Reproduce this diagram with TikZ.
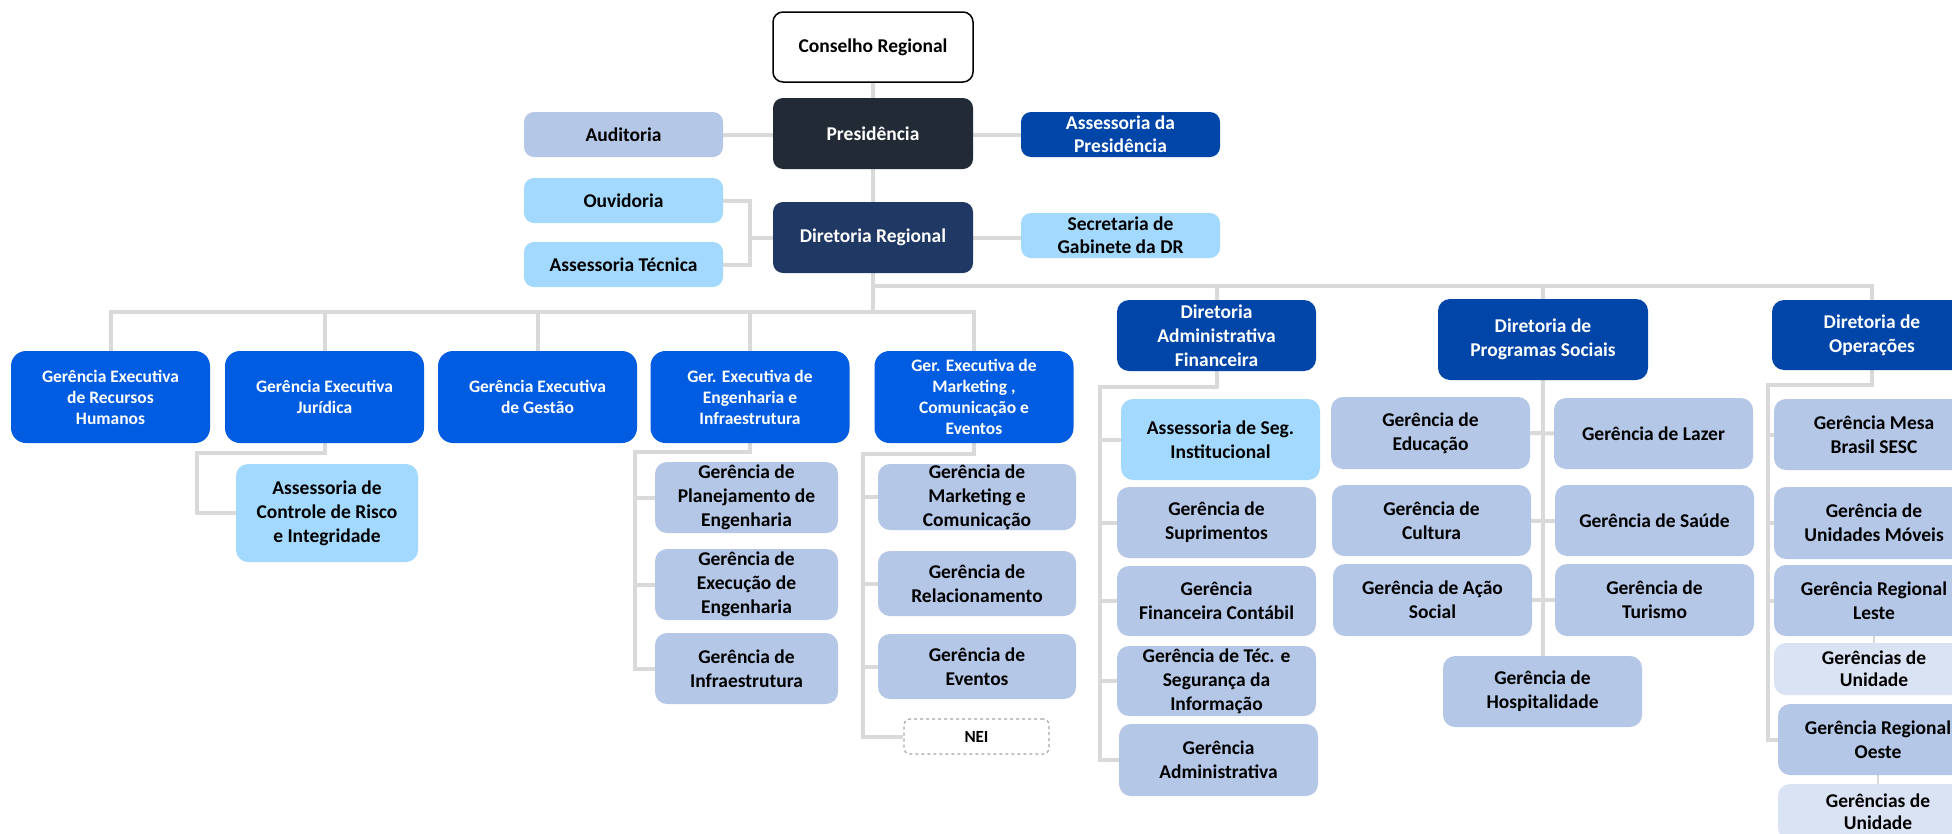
\documentclass[tikz,border=0pt]{standalone}
\usepackage{fontspec}
\setmainfont{Carlito}
\usetikzlibrary{backgrounds}
\definecolor{dk}{HTML}{222A35}
\definecolor{navy}{HTML}{203864}
\definecolor{roy}{HTML}{0045A8}
\definecolor{brt}{HTML}{005CE1}
\definecolor{lsb}{HTML}{B4C7E7}
\definecolor{lbl}{HTML}{A3D9FE}
\definecolor{pale}{HTML}{DAE3F3}
\definecolor{ln}{HTML}{D9D9D9}
\definecolor{dsh}{HTML}{A6A6A6}
\tikzset{
  sz/.style 2 args={minimum width=#1pt, minimum height=#2pt},
  bx/.style={rounded corners=12pt, inner sep=0pt, align=center, text=black,
    font=\bfseries\fontsize{19.5}{24}\selectfont},
  topbx/.style={bx, rounded corners=10pt, font=\bfseries\fontsize{19.5}{23}\selectfont},
  gex/.style={bx, rounded corners=15pt, fill=brt, text=white, sz={199}{92},
    font=\bfseries\fontsize{17.5}{21}\selectfont},
  dirbx/.style={bx, fill=roy, text=white},
  lo/.style={bx, fill=lsb},
  lob/.style={bx, fill=lbl},
  unid/.style={bx, fill=pale, font=\bfseries\fontsize{19.5}{22}\selectfont},
  con/.style={draw=ln, line width=4pt},
  thincon/.style={draw=ln, line width=2pt},
}
\begin{document}
\begin{tikzpicture}[x=1pt,y=-1pt]
\useasboundingbox (0,0) rectangle (1952,833);
\clip (0,0) rectangle (1952,833);

% top
\node[topbx, draw=black, line width=1.5pt, fill=white, sz={200}{70}] (cons) at (873,47) {Conselho Regional};
\node[topbx, fill=dk, text=white, sz={200}{71}] (pres) at (873,133.5) {Presidência};
\node[topbx, fill=lsb, sz={199}{45}] (aud) at (623.5,134.5) {Auditoria};
\node[topbx, fill=roy, text=white, sz={199}{45}] (asspres) at (1120.5,134.5) {Assessoria da\\Presidência};
\node[topbx, fill=lbl, sz={199}{45}] (ouv) at (623.5,200.5) {Ouvidoria};
\node[topbx, fill=lbl, sz={199}{45}] (asstec) at (623.5,264.5) {Assessoria Técnica};
\node[topbx, fill=navy, text=white, sz={200}{71}] (dirreg) at (873,237.5) {Diretoria Regional};
\node[topbx, fill=lbl, sz={199}{45}] (sec) at (1120.5,235.5) {Secretaria de\\Gabinete da DR};

% executive managements
\node[gex] (rh) at (110.5,397) {Gerência Executiva\\de Recursos\\Humanos};
\node[gex] (jur) at (324.5,397) {Gerência Executiva\\Jurídica};
\node[gex] (gest) at (537.5,397) {Gerência Executiva\\de Gestão};
\node[gex] (eng) at (750,397) {Ger. Executiva de\\Engenharia e\\Infraestrutura};
\node[gex] (mkt) at (974,397) {Ger. Executiva de\\Marketing ,\\Comunicação e\\Eventos};

\node[lob, sz={182}{98}] (acri) at (327,513) {Assessoria de\\Controle de Risco\\e Integridade};

\node[lo, sz={183}{71}] (plan) at (746.5,497.5) {Gerência de\\Planejamento de\\Engenharia};
\node[lo, sz={183}{71}] (exec) at (746.5,584.5) {Gerência de\\Execução de\\Engenharia};
\node[lo, sz={183}{71}] (infra) at (746.5,668.5) {Gerência de\\Infraestrutura};

\node[lo, sz={198}{66}] (mkcom) at (977,497) {Gerência de\\Marketing e\\Comunicação};
\node[lo, sz={198}{65}] (rel) at (977,583.5) {Gerência de\\Relacionamento};
\node[lo, sz={198}{65}] (evt) at (977,666.5) {Gerência de\\Eventos};
\node[bx, rounded corners=6pt, draw=dsh, dashed, line width=1.2pt, fill=white, sz={145}{35},
  font=\bfseries\fontsize{17}{20}\selectfont] (nei) at (976.5,736.5) {NEI};

% directorates
\node[dirbx, sz={199}{71}] (dadm) at (1216.5,335.5) {Diretoria\\Administrativa\\Financeira};
\node[dirbx, sz={210}{81}] (dps) at (1543,339.5) {Diretoria de\\Programas Sociais};
\node[dirbx, sz={200}{70}] (dops) at (1872,335) {Diretoria de\\Operações};

\node[lob, sz={199}{81}] (aseg) at (1220.5,439.5) {Assessoria de Seg.\\Institucional};
\node[lo, sz={199}{71}] (sup) at (1216.5,522.5) {Gerência de\\Suprimentos};
\node[lo, sz={199}{70}] (fin) at (1216.5,601) {Gerência\\Financeira Contábil};
\node[lo, sz={199}{70}] (tec) at (1216.5,681) {Gerência de Téc. e\\Segurança da\\Informação};
\node[lo, sz={199}{72}] (gadm) at (1218.5,760) {Gerência\\Administrativa};

\node[lo, sz={199}{72}] (edu) at (1430.5,433) {Gerência de\\Educação};
\node[lo, sz={199}{71}] (cult) at (1431.5,520.5) {Gerência de\\Cultura};
\node[lo, sz={199}{72}] (acao) at (1432.5,600) {Gerência de Ação\\Social};
\node[lo, sz={199}{71}] (laz) at (1653.5,433.5) {Gerência de Lazer};
\node[lo, sz={199}{71}] (sau) at (1654.5,520.5) {Gerência de Saúde};
\node[lo, sz={199}{72}] (tur) at (1654.5,600) {Gerência de\\Turismo};
\node[lo, sz={199}{71}] (hosp) at (1542.5,691.5) {Gerência de\\Hospitalidade};

\node[lo, sz={200}{71}] (mesa) at (1874,434.5) {Gerência Mesa\\Brasil SESC};
\node[lo, sz={200}{72}] (mov) at (1874,523) {Gerência de\\Unidades Móveis};
\node[lo, sz={200}{71}] (leste) at (1874,600.5) {Gerência Regional\\Leste};
\node[unid, sz={200}{52}] (gu1) at (1874,669) {Gerências de\\Unidade};
\node[lo, sz={200}{71}] (oeste) at (1878,739.5) {Gerência Regional\\Oeste};
\node[unid, sz={200}{56}] (gu2) at (1878,812) {Gerências de\\Unidade};

\begin{pgfonlayer}{background}
\fill[white] (0,0) rectangle (1952,833);
% top connectors
\draw[con] (cons.south) -- (pres.north);
\draw[con] (pres.south) -- (dirreg.north);
\draw[con] (aud.east) -- (aud.east -| pres.west);
\draw[con] (pres.east |- asspres.west) -- (asspres.west);
\coordinate (j1) at (750,237.5);
\draw[con] (ouv.east) -| (j1) |- (asstec.east);
\draw[con] (j1) -- (dirreg.west);
\draw[con] (dirreg.east) -- (dirreg.east -| sec.west);
% buses
\coordinate (busL) at (873,312);
\coordinate (busR) at (873,286);
\draw[con] (dirreg.south) -- (busL);
\draw[con] (rh.north) |- (busL) -| (mkt.north);
\draw[con] (busL -| jur.north) -- (jur.north);
\draw[con] (busL -| gest.north) -- (gest.north);
\draw[con] (busL -| eng.north) -- (eng.north);
\draw[con] (busR) -| (dops.north);
\draw[con] (busR -| dadm.north) -- (dadm.north);
\draw[con] (busR -| dps.north) -- (dps.north);
% juridica
\draw[con] (jur.south) -- ++(0,10) -| ([xshift=-39pt]acri.west) -- (acri.west);
% engenharia
\draw[con] (eng.south) -- ++(0,9) -| ([xshift=-20pt]infra.west) -- (infra.west);
\draw[con] (plan.west) -- ++(-20,0);
\draw[con] (exec.west) -- ++(-20,0);
% marketing
\draw[con] (mkt.south) -- ++(0,11) -| ([xshift=-40pt]nei.west) -- (nei.west);
\draw[con] (mkcom.west) -- ++(-14,0);
\draw[con] (rel.west) -- ++(-14,0);
\draw[con] (evt.west) -- ++(-14,0);
% administrativa financeira
\draw[con] (dadm.south) -- ++(0,16) -| ([xshift=-18.5pt]gadm.west) -- (gadm.west);
\draw[con] (aseg.west) -- ++(-20,0);
\draw[con] (sup.west) -- ++(-16,0);
\draw[con] (fin.west) -- ++(-16,0);
\draw[con] (tec.west) -- ++(-16,0);
% programas sociais
\draw[con] (dps.south) -- (dps.south |- hosp.north);
\draw[con] (edu.east) -- (laz.west);
\draw[con] (cult.east) -- (sau.west);
\draw[con] (acao.east) -- (tur.west);
% operacoes
\draw[con] (dops.south) -- ++(0,15) -| ([xshift=-10pt]oeste.west) -- (oeste.west);
\draw[con] (mesa.west) -- ++(-6,0);
\draw[con] (mov.west) -- ++(-6,0);
\draw[con] (leste.west) -- ++(-6,0);
\draw[thincon] (leste.south) -- (gu1.north);
\draw[thincon] (oeste.south) -- (gu2.north);
\end{pgfonlayer}
\end{tikzpicture}
\end{document}
